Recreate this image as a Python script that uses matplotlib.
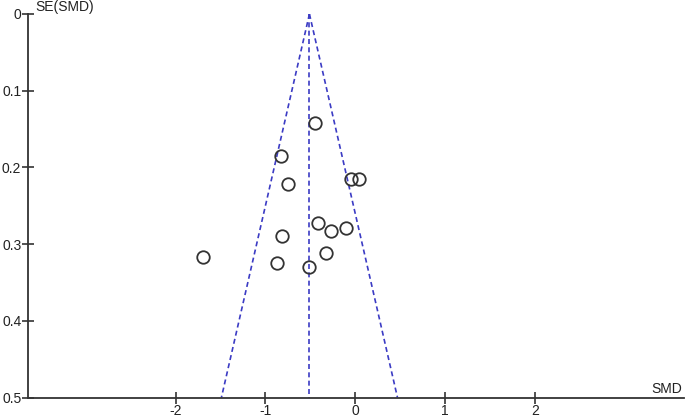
import numpy as np
import matplotlib
matplotlib.use("Agg")
import matplotlib.pyplot as plt

plt.rcParams["font.family"] = ["Liberation Sans", "DejaVu Sans"]
plt.rcParams["axes.unicode_minus"] = False

# study estimates
smd = [-0.45, -0.83, -0.75, -0.05, 0.04, -1.69, -0.81, -0.87, -0.51, -0.42, -0.27, -0.10, -0.33]
se = [0.142, 0.185, 0.221, 0.215, 0.215, 0.317, 0.289, 0.324, 0.330, 0.272, 0.283, 0.279, 0.311]
pooled = -0.51
se_max = 0.5
xticks = [-2, -1, 0, 1, 2]
yticks = [0, 0.1, 0.2, 0.3, 0.4, 0.5]
yticklabels = ["0", "0.1", "0.2", "0.3", "0.4", "0.5"]

BLUE = "#3b3bc4"
INK = "#333333"
DASH = (0, (3, 2))

fig = plt.figure(figsize=(6.85, 4.17), dpi=100)
ax = fig.add_axes([28.3 / 685, 19.5 / 417, (684 - 28.3) / 685, (397.5 - 14) / 417])

# funnel: pooled estimate +/- 1.96*SE
s = np.array([0, se_max])
ax.plot(pooled - 1.96 * s, s, color=BLUE, lw=1.2, ls=DASH)
ax.plot(pooled + 1.96 * s, s, color=BLUE, lw=1.2, ls=DASH)
ax.plot([pooled, pooled], s, color=BLUE, lw=1.2, ls=DASH)

ax.plot(smd, se, "o", ms=9, mfc="none", mec=INK, mew=1.3, clip_on=False)

ax.set_xlim(-3.64, 3.66)
ax.set_ylim(0.5, 0)
ax.set_xticks(xticks)
ax.set_yticks(yticks)
ax.set_yticklabels(yticklabels)

for sp in ("top", "right"):
    ax.spines[sp].set_visible(False)
for sp in ("left", "bottom"):
    ax.spines[sp].set_color(INK)
    ax.spines[sp].set_linewidth(1.3)
ax.tick_params(direction="inout", length=8, width=1.2, color=INK,
               labelsize=10, labelcolor="#222222", pad=1)

fig.text(35 / 685, 1 - 7.5 / 417, "SE(SMD)", fontsize=10, color="#222222",
         ha="left", va="center")
fig.text(682 / 685, 1 - 389 / 417, "SMD", fontsize=10, color="#222222",
         ha="right", va="center")

fig.savefig("out.png", dpi=100, facecolor="white")
